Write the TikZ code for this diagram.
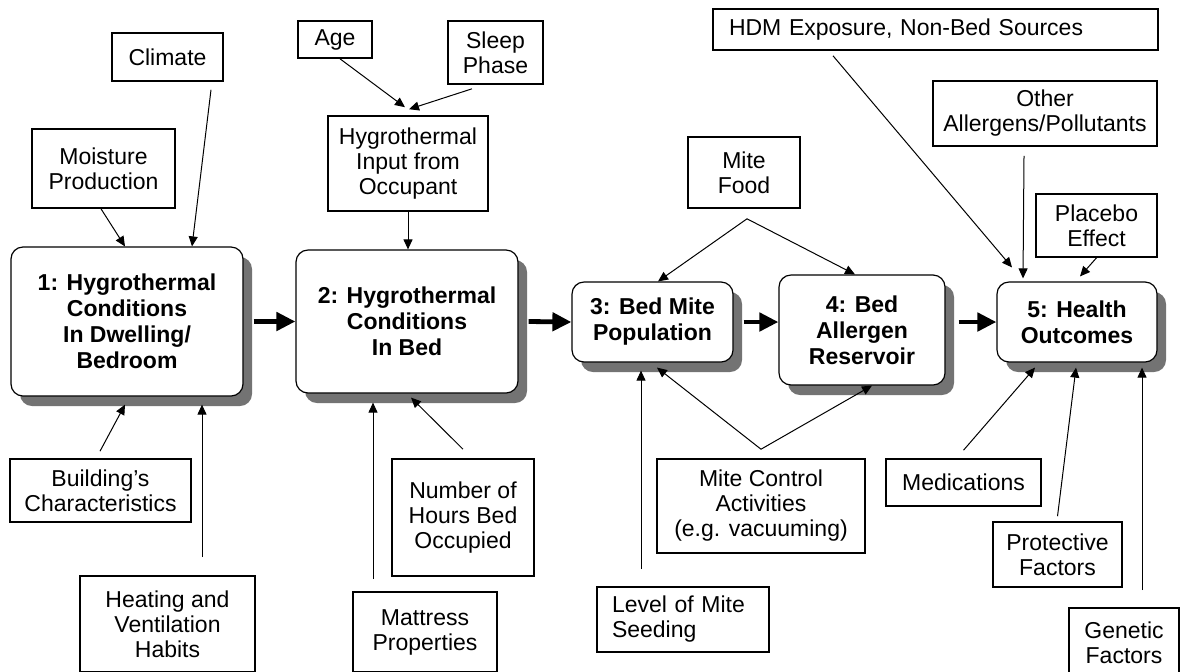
\documentclass[tikz,border=0pt]{standalone}
\usepackage{fontspec}
\setmainfont{Liberation Sans}
\usetikzlibrary{arrows.meta,calc,shadows}

\begin{document}
\begin{tikzpicture}[
  x=0.5pt, y=-0.5pt,
  sz/.style 2 args={minimum width=#1*0.5pt, minimum height=#2*0.5pt},
  factor/.style={draw, line width=0.8pt, inner sep=2pt, align=center,
                 font=\fontsize{11.5}{12.5}\selectfont},
  stage/.style={draw, line width=0.6pt, rounded corners=6pt, fill=white,
                inner sep=2pt, align=center,
                font=\fontsize{11.5}{13}\selectfont\bfseries,
                drop shadow={shadow xshift=4.5pt, shadow yshift=-5pt,
                             fill=black!55, opacity=1}},
  arr/.style={-{Triangle[length=5pt,width=4.5pt]}, line width=0.5pt},
  flow/.style={-{Triangle[length=9.5pt,width=9pt]}, line width=2.4pt}
]
  \useasboundingbox (0,0) rectangle (1181,671);

  % inputs above the chain
  \node[factor, sz={111}{48}] (clim) at (167.5,57) {Climate};
  \node[factor, sz={143}{79}] (moist) at (103.5,168.5) {Moisture\\Production};
  \node[factor, sz={74}{37}] (age) at (335,39.5) {Age};
  \node[factor, sz={95}{63}] (sleep) at (495.5,52.5) {Sleep\\Phase};
  \node[factor, sz={160}{95}] (input) at (408,163.5) {Hygrothermal\\Input from\\Occupant};
  \node[factor, sz={445}{41}, text width=206.5pt, align=left, inner xsep=8pt] (hdm)
    at (935.5,29.5) {HDM Exposure, Non-Bed Sources};
  \node[factor, sz={224}{65}] (other) at (1045,113.5) {Other\\Allergens/Pollutants};
  \node[factor, sz={112}{71}] (food) at (744,172.5) {Mite\\Food};
  \node[factor, sz={121}{63}] (placebo) at (1096.5,225.5) {Placebo\\Effect};

  % main chain
  \node[stage, sz={232}{149}] (b1) at (127,321.5) {1: Hygrothermal\\Conditions\\In Dwelling/\\Bedroom};
  \node[stage, sz={222}{143}] (b2) at (407,321.5) {2: Hygrothermal\\Conditions\\In Bed};
  \node[stage, sz={161}{80}] (b3) at (652.5,322) {3: Bed Mite\\Population};
  \node[stage, sz={166}{110}] (b4) at (862,330) {4: Bed\\Allergen\\Reservoir};
  \node[stage, sz={160}{80}] (b5) at (1077,322) {5: Health\\Outcomes};

  % inputs below the chain
  \node[factor, sz={181}{63}] (build) at (100.5,490.5) {Building's\\Characteristics};
  \node[factor, sz={175}{96}] (heat) at (167.5,624) {Heating and\\Ventilation\\Habits};
  \node[factor, sz={142}{117}] (hours) at (463,517.5) {Number of\\Hours Bed\\Occupied};
  \node[factor, sz={144}{80}] (matt) at (425,632) {Mattress\\Properties};
  \node[factor, sz={172}{65}, text width=71pt, align=left, inner xsep=7.5pt] (seed)
    at (683,619.5) {Level of Mite\\Seeding};
  \node[factor, sz={208}{94}] (ctrl) at (761,506) {Mite Control\\Activities\\(e.g. vacuuming)};
  \node[factor, sz={155}{47}] (med) at (963.5,482.5) {Medications};
  \node[factor, sz={129}{65}] (prot) at (1057.5,554.5) {Protective\\Factors};
  \node[factor, sz={110}{70}] (gen) at (1124,643) {Genetic\\Factors};

  \coordinate (foodtip) at ($(food.south)+(3,10)$);
  \coordinate (ctrltip) at ($(ctrl.north)+(0,-9)$);

  \draw[flow] ($(b1.east)+(10,0)$) -- (b2.west);
  \draw[flow] ($(b2.east)+(10,0)$) -- (b3.west);
  \draw[flow] ($(b3.east)+(10,0)$) -- (b3.east -| b4.west);
  \draw[flow] ($(b4.east |- b5.west)+(13,0)$) -- (b5.west);

  \draw[arr] ($(moist.south)+(-2.5,0)$) -- ($(b1.north)+(-2,0)$);
  \draw[arr] ($(clim.south)+(43.5,8)$) -- ($(b1.north)+(65,0)$);
  \draw[arr] ($(build.north)+(-0.5,-7)$) -- ($(b1.south)+(-2,8)$);
  \draw[arr] ($(heat.north)+(34.5,-18)$) -- ($(b1.south)+(75,8)$);
  \draw[arr] ($(age.south)+(5,0)$) -- ($(input.north)+(-3,-8)$);
  \draw[arr] ($(sleep.south)+(-23.5,4)$) -- ($(input.north)+(1,-6)$);
  \draw[arr] (input.south) -- (input.south |- b2.north);
  \draw[arr] ($(matt.north)+(-52,-12)$) -- ($(b2.south)+(-34,9)$);
  \draw[arr] ($(hours.north)+(0,-9)$) -- ($(b2.south)+(4,4)$);
  \draw[arr] (foodtip) -- ($(b3.north)+(5.5,0)$);
  \draw[arr] (foodtip) -- ($(b4.north)+(-7,0)$);
  \draw[arr] (ctrltip) -- ($(b3.south)+(4.5,5)$);
  \draw[arr] (ctrltip) -- ($(b4.south)+(10,0)$);
  \draw[arr] ($(seed.north)+(-42,-17)$) -- ($(b3.south)+(-11.5,8)$);
  \draw[arr] ($(hdm.south)+(-102.5,5)$) -- ($(b5.north)+(-65,-14)$);
  \draw[arr] ($(other.south)+(-21,9)$) -- ($(b5.north)+(-54,-3)$);
  \draw[arr] (placebo.south) -- ($(b5.north)+(3,-5)$);
  \draw[arr] ($(med.north)+(0,-8)$) -- ($(b5.south)+(-42,5)$);
  \draw[arr] ($(prot.north)+(0,-5)$) -- ($(b5.south)+(-1,5)$);
  \draw[arr] ($(gen.north)+(18,-17)$) -- ($(b5.south)+(65,5)$);
\end{tikzpicture}
\end{document}
